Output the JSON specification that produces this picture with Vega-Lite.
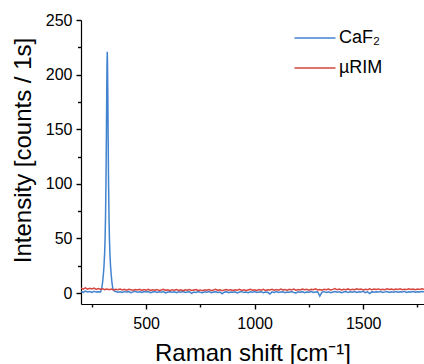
{
  "$schema": "https://vega.github.io/schema/vega-lite/v6.json",
  "width": 343,
  "height": 284,
  "autosize": {"type": "none"},
  "padding": {"left": 81, "top": 20, "right": 0, "bottom": 60},
  "background": "white",
  "config": {
    "view": {"stroke": null},
    "font": "Liberation Sans",
    "axis": {
      "domainColor": "#000000",
      "domainWidth": 1.2,
      "ticks": true,
      "tickColor": "#000000",
      "tickWidth": 1.4,
      "tickOpacity": 1,
      "labelColor": "#000000",
      "titleColor": "#000000",
      "labelFont": "Liberation Sans",
      "titleFont": "Liberation Sans",
      "labelFontSize": 16,
      "titleFontSize": 24,
      "titleFontWeight": "normal",
      "grid": false,
      "labelOverlap": false,
      "labelFlush": false
    },
    "legend": {
      "labelFont": "Liberation Sans",
      "labelFontSize": 18,
      "labelColor": "#000000"
    }
  },
  "datasets": {
    "caf2": [
      {"x":200,"y":1.5},{"x":210,"y":0.7},{"x":220,"y":1.8},{"x":230,"y":1.0},{"x":240,"y":1.4},{"x":250,"y":0.5},{"x":260,"y":1.6},{"x":270,"y":0.9},{"x":280,"y":1.3},{"x":290,"y":1.0},
      {"x":293,"y":3},{"x":296,"y":5},{"x":299,"y":9},{"x":303,"y":17},{"x":306,"y":25},{"x":309,"y":37},{"x":311,"y":50},{"x":313,"y":70},{"x":315,"y":100},{"x":317,"y":144},{"x":318,"y":170},{"x":319,"y":194},{"x":320,"y":212},{"x":321,"y":221},{"x":322,"y":212},{"x":323,"y":194},{"x":324,"y":170},{"x":325,"y":144},{"x":327,"y":100},{"x":329,"y":70},{"x":331,"y":50},{"x":333,"y":37},{"x":336,"y":25},{"x":339,"y":17},{"x":343,"y":9},{"x":346,"y":5},{"x":349,"y":3},{"x":353,"y":2.0},{"x":357,"y":1.6},
      {"x":360,"y":1.4},{"x":370,"y":0.8},{"x":380,"y":1.2},{"x":390,"y":0.6},{"x":400,"y":1.5},{"x":410,"y":0.9},{"x":420,"y":1.3},{"x":430,"y":0.4},{"x":440,"y":1.1},{"x":450,"y":1.6},
      {"x":460,"y":0.7},{"x":470,"y":1.2},{"x":480,"y":0.5},{"x":490,"y":1.4},{"x":500,"y":0.9},{"x":510,"y":1.3},{"x":520,"y":0.3},{"x":530,"y":1.0},{"x":540,"y":1.5},{"x":550,"y":0.6},
      {"x":560,"y":1.1},{"x":570,"y":0.8},{"x":580,"y":1.4},{"x":590,"y":0.2},{"x":600,"y":1.0},{"x":610,"y":1.3},{"x":620,"y":0.7},{"x":630,"y":1.2},{"x":640,"y":0.4},{"x":650,"y":1.1},
      {"x":660,"y":0.8},{"x":670,"y":1.5},{"x":680,"y":0.5},{"x":690,"y":0.9},{"x":700,"y":1.2},{"x":710,"y":-0.3},{"x":720,"y":1.0},{"x":730,"y":0.6},{"x":740,"y":1.3},{"x":750,"y":0.8},
      {"x":760,"y":0.4},{"x":770,"y":1.1},{"x":780,"y":0.7},{"x":790,"y":1.4},{"x":800,"y":0.3},{"x":810,"y":0.9},{"x":820,"y":1.2},{"x":830,"y":0.5},{"x":840,"y":1.0},{"x":850,"y":-0.6},
      {"x":860,"y":0.8},{"x":870,"y":1.3},{"x":880,"y":0.4},{"x":890,"y":1.0},{"x":900,"y":0.7},{"x":910,"y":1.2},{"x":920,"y":0.2},{"x":930,"y":0.9},{"x":940,"y":1.3},{"x":950,"y":0.6},
      {"x":960,"y":1.0},{"x":970,"y":0.3},{"x":980,"y":1.1},{"x":990,"y":0.8},{"x":1000,"y":1.4},{"x":1010,"y":0.5},{"x":1020,"y":0.9},{"x":1030,"y":1.2},{"x":1040,"y":0.4},{"x":1050,"y":1.0},
      {"x":1060,"y":0.7},{"x":1070,"y":-0.8},{"x":1080,"y":1.1},{"x":1090,"y":0.6},{"x":1100,"y":1.3},{"x":1110,"y":0.5},{"x":1120,"y":0.9},{"x":1130,"y":1.2},{"x":1140,"y":0.3},{"x":1150,"y":1.0},
      {"x":1160,"y":0.8},{"x":1170,"y":1.4},{"x":1180,"y":0.6},{"x":1190,"y":0.2},{"x":1200,"y":1.1},{"x":1210,"y":0.7},{"x":1220,"y":1.3},{"x":1230,"y":0.4},{"x":1240,"y":1.0},{"x":1250,"y":0.8},
      {"x":1260,"y":1.5},{"x":1270,"y":0.5},{"x":1280,"y":0.9},{"x":1290,"y":1.2},{"x":1300,"y":-2.8},{"x":1310,"y":0.9},{"x":1320,"y":1.3},{"x":1330,"y":0.6},{"x":1340,"y":1.1},{"x":1350,"y":0.4},
      {"x":1360,"y":1.0},{"x":1370,"y":1.4},{"x":1380,"y":0.7},{"x":1390,"y":1.2},{"x":1400,"y":0.3},{"x":1410,"y":1.0},{"x":1420,"y":1.5},{"x":1430,"y":0.6},{"x":1440,"y":1.1},{"x":1450,"y":0.8},
      {"x":1460,"y":1.4},{"x":1470,"y":0.5},{"x":1480,"y":1.2},{"x":1490,"y":0.9},{"x":1500,"y":1.6},{"x":1510,"y":0.4},{"x":1520,"y":1.1},{"x":1530,"y":-0.4},{"x":1540,"y":1.3},{"x":1550,"y":0.7},
      {"x":1560,"y":1.2},{"x":1570,"y":0.9},{"x":1580,"y":1.5},{"x":1590,"y":0.6},{"x":1600,"y":1.1},{"x":1610,"y":1.4},{"x":1620,"y":0.5},{"x":1630,"y":1.2},{"x":1640,"y":0.8},{"x":1650,"y":1.5},
      {"x":1660,"y":0.7},{"x":1670,"y":1.3},{"x":1680,"y":0.9},{"x":1690,"y":1.6},{"x":1700,"y":0.6},{"x":1710,"y":1.2},{"x":1720,"y":1.0},{"x":1730,"y":1.5},{"x":1740,"y":0.7},{"x":1750,"y":1.3},
      {"x":1760,"y":0.9},{"x":1770,"y":1.4},{"x":1780,"y":1.1}
    ],
    "rim": [
      {"x":200,"y":4.4},{"x":210,"y":3.6},{"x":220,"y":4.7},{"x":230,"y":3.5},{"x":240,"y":4.3},{"x":250,"y":3.8},{"x":260,"y":4.6},{"x":270,"y":3.3},{"x":280,"y":4.2},{"x":290,"y":3.6},
      {"x":300,"y":4.0},{"x":310,"y":3.2},{"x":320,"y":3.8},{"x":330,"y":3.1},{"x":340,"y":3.6},{"x":350,"y":2.9},{"x":360,"y":3.5},{"x":370,"y":3.0},{"x":380,"y":3.7},{"x":390,"y":2.8},
      {"x":400,"y":3.4},{"x":410,"y":2.7},{"x":420,"y":3.5},{"x":430,"y":3.1},{"x":440,"y":2.6},{"x":450,"y":3.3},{"x":460,"y":2.8},{"x":470,"y":3.5},{"x":480,"y":2.5},{"x":490,"y":3.2},
      {"x":500,"y":2.7},{"x":510,"y":3.4},{"x":520,"y":2.4},{"x":530,"y":3.0},{"x":540,"y":2.6},{"x":550,"y":3.3},{"x":560,"y":2.3},{"x":570,"y":2.9},{"x":580,"y":3.4},{"x":590,"y":2.5},
      {"x":600,"y":3.0},{"x":610,"y":2.2},{"x":620,"y":3.1},{"x":630,"y":2.7},{"x":640,"y":3.3},{"x":650,"y":2.4},{"x":660,"y":2.9},{"x":670,"y":2.1},{"x":680,"y":3.0},{"x":690,"y":2.6},
      {"x":700,"y":3.2},{"x":710,"y":2.3},{"x":720,"y":2.8},{"x":730,"y":3.3},{"x":740,"y":2.4},{"x":750,"y":2.9},{"x":760,"y":2.2},{"x":770,"y":3.1},{"x":780,"y":2.6},{"x":790,"y":3.2},
      {"x":800,"y":2.3},{"x":810,"y":2.8},{"x":820,"y":3.4},{"x":830,"y":2.5},{"x":840,"y":3.0},{"x":850,"y":2.2},{"x":860,"y":2.9},{"x":870,"y":3.3},{"x":880,"y":2.6},{"x":890,"y":3.1},
      {"x":900,"y":2.4},{"x":910,"y":3.0},{"x":920,"y":2.7},{"x":930,"y":3.4},{"x":940,"y":2.5},{"x":950,"y":3.1},{"x":960,"y":2.3},{"x":970,"y":2.9},{"x":980,"y":3.5},{"x":990,"y":2.6},
      {"x":1000,"y":3.0},{"x":1010,"y":2.4},{"x":1020,"y":3.2},{"x":1030,"y":2.7},{"x":1040,"y":3.4},{"x":1050,"y":2.5},{"x":1060,"y":3.1},{"x":1070,"y":2.8},{"x":1080,"y":3.5},{"x":1090,"y":2.6},
      {"x":1100,"y":3.2},{"x":1110,"y":2.7},{"x":1120,"y":3.6},{"x":1130,"y":2.8},{"x":1140,"y":3.3},{"x":1150,"y":2.6},{"x":1160,"y":3.4},{"x":1170,"y":2.9},{"x":1180,"y":3.6},{"x":1190,"y":2.7},
      {"x":1200,"y":3.2},{"x":1210,"y":2.8},{"x":1220,"y":3.7},{"x":1230,"y":3.0},{"x":1240,"y":3.4},{"x":1250,"y":2.7},{"x":1260,"y":3.5},{"x":1270,"y":3.0},{"x":1280,"y":3.8},{"x":1290,"y":2.8},
      {"x":1300,"y":3.3},{"x":1310,"y":2.6},{"x":1320,"y":3.5},{"x":1330,"y":3.0},{"x":1340,"y":3.7},{"x":1350,"y":2.9},{"x":1360,"y":3.4},{"x":1370,"y":4.1},{"x":1380,"y":3.0},{"x":1390,"y":3.6},
      {"x":1400,"y":2.8},{"x":1410,"y":3.5},{"x":1420,"y":3.1},{"x":1430,"y":3.8},{"x":1440,"y":2.9},{"x":1450,"y":3.4},{"x":1460,"y":3.0},{"x":1470,"y":3.9},{"x":1480,"y":3.2},{"x":1490,"y":3.6},
      {"x":1500,"y":2.9},{"x":1510,"y":3.5},{"x":1520,"y":3.1},{"x":1530,"y":4.0},{"x":1540,"y":3.0},{"x":1550,"y":3.6},{"x":1560,"y":3.2},{"x":1570,"y":3.8},{"x":1580,"y":3.0},{"x":1590,"y":3.5},
      {"x":1600,"y":3.1},{"x":1610,"y":3.9},{"x":1620,"y":3.2},{"x":1630,"y":3.6},{"x":1640,"y":3.0},{"x":1650,"y":3.7},{"x":1660,"y":3.3},{"x":1670,"y":3.9},{"x":1680,"y":3.1},{"x":1690,"y":3.6},
      {"x":1700,"y":3.2},{"x":1710,"y":4.0},{"x":1720,"y":3.3},{"x":1730,"y":3.7},{"x":1740,"y":3.1},{"x":1750,"y":3.8},{"x":1760,"y":3.4},{"x":1770,"y":3.9},{"x":1780,"y":3.5}
    ]
  },
  "layer": [
    {
      "data": {"name": "caf2"},
      "mark": {"type": "line", "strokeWidth": 1.5, "clip": true},
      "encoding": {
        "x": {
          "field": "x",
          "type": "quantitative",
          "scale": {"domain": [200, 1780], "nice": false, "zero": false},
          "axis": {
            "orient": "bottom",
            "title": "Raman shift [cm⁻¹]",
            "values": [500, 1000, 1500],
            "format": "d",
            "ticks": true,
            "tickSize": 5,
            "labelPadding": 6,
            "titleY": 56,
            "titleBaseline": "alphabetic"
          }
        },
        "y": {
          "field": "y",
          "type": "quantitative",
          "scale": {"domain": [-10, 250], "nice": false, "zero": false},
          "axis": {
            "orient": "left",
            "title": "Intensity [counts / 1s]",
            "values": [0, 50, 100, 150, 200, 250],
            "ticks": true,
            "tickSize": 5,
            "labelPadding": 4,
            "titleX": -51,
            "titleY": 130,
            "titleAngle": -90,
            "titleBaseline": "alphabetic",
            "titleAlign": "center"
          }
        },
        "color": {
          "datum": "CaF₂",
          "type": "nominal",
          "scale": {"domain": ["CaF₂", "µRIM"], "range": ["#4283cf", "#d4463f"]},
          "legend": {
            "title": null,
            "orient": "none",
            "legendX": 223,
            "legendY": 7,
            "symbolType": "M-2,0H2",
            "symbolSize": 420,
            "symbolStrokeWidth": 1.5,
            "labelOffset": 13,
            "rowPadding": 10
          }
        }
      }
    },
    {
      "data": {"name": "rim"},
      "mark": {"type": "line", "strokeWidth": 1.5, "clip": true},
      "encoding": {
        "x": {
          "field": "x",
          "type": "quantitative",
          "axis": {
            "orient": "bottom",
            "title": null,
            "values": [250, 750, 1250, 1750],
            "labels": false,
            "domain": false,
            "ticks": true,
            "tickSize": 3
          }
        },
        "y": {
          "field": "y",
          "type": "quantitative",
          "axis": {
            "orient": "left",
            "title": null,
            "values": [25, 75, 125, 175, 225],
            "labels": false,
            "domain": false,
            "ticks": true,
            "tickSize": 3.5
          }
        },
        "color": {"datum": "µRIM", "type": "nominal"}
      }
    }
  ],
  "resolve": {"scale": {"color": "shared", "x": "shared", "y": "shared"}, "axis": {"x": "independent", "y": "independent"}}
}
